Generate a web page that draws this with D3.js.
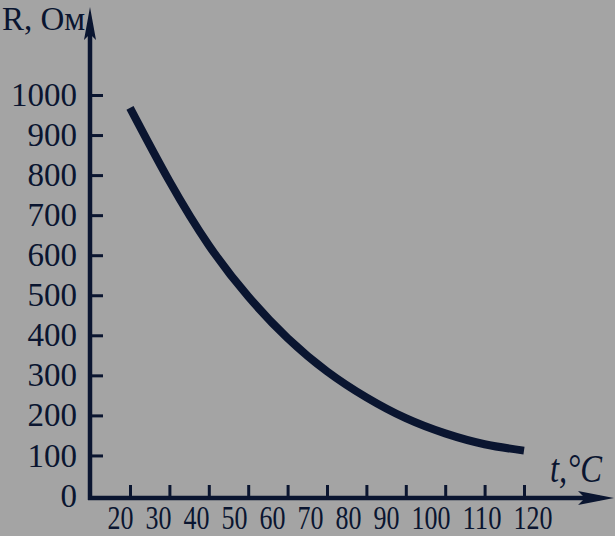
<!DOCTYPE html>
<html><head><meta charset="utf-8">
<script src="https://cdn.jsdelivr.net/npm/d3@7"></script>
<style>
html,body{margin:0;padding:0;background:#a4a4a4;}
svg{display:block;}
</style></head>
<body>
<svg id="chart" width="615" height="536"></svg>
<script>
// Data
const temperatures = [20, 30, 40, 50, 60, 70, 80, 90, 100, 110, 120];
const resistance  = [968, 785, 625, 497, 393, 310, 245, 193, 155, 128, 112];
const xTickValues = [20, 30, 40, 50, 60, 70, 80, 90, 100, 110, 120];
const yTickValues = [0, 100, 200, 300, 400, 500, 600, 700, 800, 900, 1000];
const yTitle = "R, Ом";
const xTitle = "t,°C";

const ink = "#0a1530";
const svg = d3.select("#chart");
svg.append("rect").attr("width",615).attr("height",536).attr("fill","#a4a4a4");

const axisX0 = 90, axisY0 = 498;
const x = d3.scaleLinear().domain([20,120]).range([130,524]);
const y = d3.scaleLinear().domain([0,1000]).range([495.5,95]);

// axis lines with arrows
svg.append("line").attr("x1",axisX0).attr("x2",axisX0).attr("y1",axisY0+2).attr("y2",30)
  .attr("stroke",ink).attr("stroke-width",4.5);
svg.append("line").attr("x1",axisX0-2).attr("x2",600).attr("y1",axisY0).attr("y2",axisY0)
  .attr("stroke",ink).attr("stroke-width",4.5);
svg.append("path").attr("d",`M${axisX0},7 L${axisX0+6},40 L${axisX0},34 L${axisX0-6},40 Z`).attr("fill",ink);
svg.append("path").attr("d",`M614,${axisY0} L578,${axisY0-7} L585,${axisY0} L578,${axisY0+7} Z`).attr("fill",ink);

// Y axis
const gy = svg.append("g").attr("transform",`translate(${axisX0},0)`)
  .call(d3.axisLeft(y).tickValues(yTickValues).tickSize(-13).tickPadding(13).tickFormat(d3.format("d")));
gy.select(".domain").remove();
gy.selectAll(".tick line").attr("stroke",ink).attr("stroke-width",3)
  .filter(d=>d===0).remove();
gy.selectAll(".tick text").attr("fill",ink).attr("font-family","'Liberation Serif', serif")
  .attr("font-size",33).attr("dy","0.32em");

// X axis
const gx = svg.append("g").attr("transform",`translate(0,${axisY0})`)
  .call(d3.axisBottom(x).tickValues(xTickValues).tickSize(-13).tickPadding(0).tickFormat(d3.format("d")));
gx.select(".domain").remove();
gx.selectAll(".tick line").attr("stroke",ink).attr("stroke-width",3);
// flow labels left to right with a fixed gap (as in the original print)
let cursor = 107;
gx.selectAll(".tick text").each(function(d){
  const t = d3.select(this);
  const s = String(d);
  const w = 13*s.length;
  t.attr("fill",ink).attr("font-family","'Liberation Serif', serif").attr("font-size",34)
   .attr("text-anchor","start").attr("dy",null).attr("y",31)
   .attr("textLength",w).attr("lengthAdjust","spacingAndGlyphs")
   .attr("x", cursor - x(d));
  cursor += w + 12;
});

// Curve
const pts = temperatures.map((t,i)=>[t,resistance[i]]);
svg.append("path").datum(pts)
  .attr("d", d3.line().x(d=>x(d[0])).y(d=>y(d[1])).curve(d3.curveNatural))
  .attr("fill","none").attr("stroke",ink).attr("stroke-width",8).attr("stroke-linecap","butt");

// Titles
svg.append("text").attr("x",2).attr("y",30).attr("fill",ink)
  .attr("font-family","'Liberation Serif', serif").attr("font-size",33).text(yTitle);
svg.append("text").attr("x",550).attr("y",482).attr("fill",ink)
  .attr("font-family","'Liberation Serif', serif").attr("font-style","italic").attr("font-size",40)
  .attr("textLength",52).attr("lengthAdjust","spacingAndGlyphs").text(xTitle);
</script>
</body></html>
